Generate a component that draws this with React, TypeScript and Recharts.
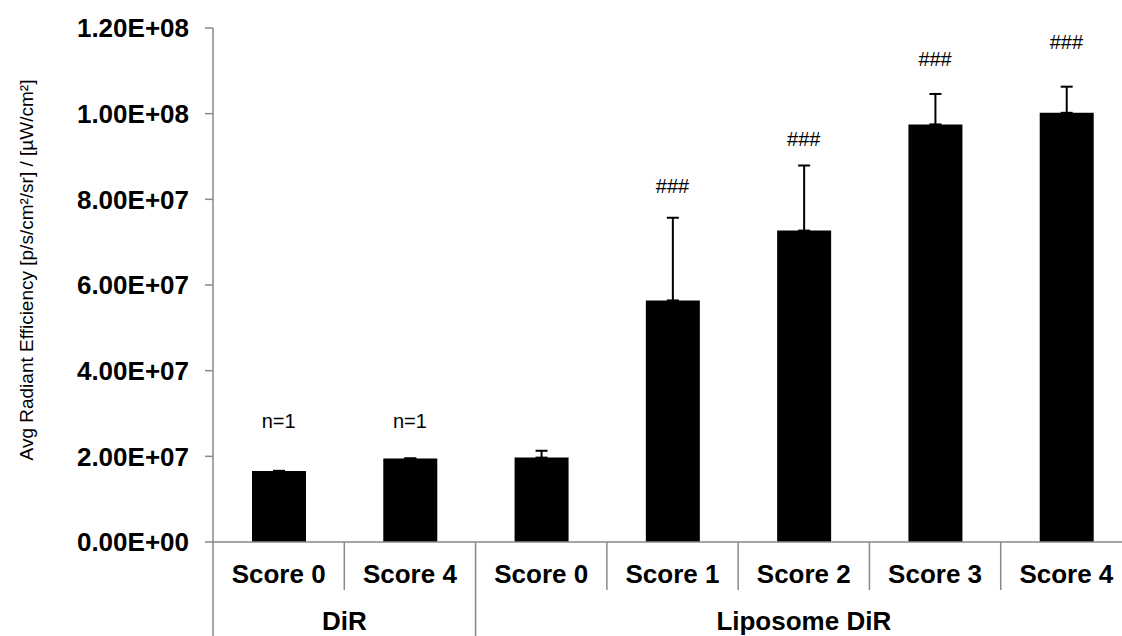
import React from "react";
import {
  BarChart,
  Bar,
  XAxis,
  YAxis,
  ErrorBar,
  ReferenceDot,
} from "recharts";

const groups = ["DiR", "DiR", "Liposome DiR", "Liposome DiR", "Liposome DiR", "Liposome DiR", "Liposome DiR"];
const scores = ["Score 0", "Score 4", "Score 0", "Score 1", "Score 2", "Score 3", "Score 4"];
const means = [1.66e7, 1.95e7, 1.97e7, 5.64e7, 7.27e7, 9.75e7, 1.002e8];
const errors = [0, 0, 1.6e6, 1.93e7, 1.52e7, 7.1e6, 6.1e6];
const notes = ["n=1", "n=1", "", "###", "###", "###", "###"];
const noteLevels = [2.83e7, 2.83e7, 0, 8.32e7, 9.41e7, 1.128e8, 1.167e8];
const yTicks = [0, 2e7, 4e7, 6e7, 8e7, 1e8, 1.2e8];

const data = scores.map((s, i) => ({
  key: `${groups[i]}|${s}`,
  score: s,
  group: groups[i],
  value: means[i],
  err: [0, errors[i]],
}));

const AXIS = "#898989";
const FONT = "'Liberation Sans', Arial, sans-serif";

// 1.2e8 -> "1.20E+08"
const sci = (v: number) => {
  const [m, e] = v.toExponential(2).split("e");
  const sign = e[0] === "-" ? "-" : "+";
  const digits = e.replace(/[+-]/, "").padStart(2, "0");
  return `${m}E${sign}${digits}`;
};

const CategoryTick = (props: any) => {
  const { x, y, payload } = props;
  const i = payload.index;
  const half = payload.offset ?? 65.6;
  const left = x - half;
  const firstOfGroup = i === 0 || groups[i - 1] !== groups[i];
  const lastOfGroup = i === groups.length - 1 || groups[i + 1] !== groups[i];
  let groupLabel = null;
  if (firstOfGroup) {
    const count = groups.filter((g) => g === groups[i]).length;
    groupLabel = (
      <text
        x={left + count * half}
        y={y + 88}
        textAnchor="middle"
        fontFamily={FONT}
        fontWeight="bold"
        fontSize={26}
        fill="#000"
      >
        {groups[i]}
      </text>
    );
  }
  return (
    <g>
      <line x1={left} x2={left} y1={y} y2={firstOfGroup ? y + 100 : y + 48} stroke={AXIS} strokeWidth={1.5} />
      {i === groups.length - 1 && (
        <line x1={x + half} x2={x + half} y1={y} y2={lastOfGroup ? y + 100 : y + 48} stroke={AXIS} strokeWidth={1.5} />
      )}
      <text x={x} y={y + 41} textAnchor="middle" fontFamily={FONT} fontWeight="bold" fontSize={26} fill="#000">
        {scores[i]}
      </text>
      {groupLabel}
    </g>
  );
};

const YTitle = (props: any) => {
  const { viewBox } = props;
  const cx = 26;
  const cy = viewBox.y + viewBox.height / 2 - 15;
  return (
    <text
      x={cx}
      y={cy}
      transform={`rotate(-90, ${cx}, ${cy})`}
      textAnchor="middle"
      dominantBaseline="central"
      fontFamily={FONT}
      fontSize={19}
      fill="#000"
    >
      Avg Radiant Efficiency [p/s/cm²/sr] / [µW/cm²]
    </text>
  );
};

export default function App() {
  return (
    <div
      style={{
        position: "fixed",
        left: 0,
        top: 0,
        width: 1122,
        height: 636,
        overflow: "hidden",
        background: "#fff",
      }}
    >
      <BarChart
        width={1140}
        height={636}
        data={data}
        margin={{ top: 28, right: 8, bottom: 0, left: 0 }}
        barSize={54}
      >
        <XAxis
          dataKey="key"
          height={94}
          interval={0}
          tickSize={0}
          tickMargin={0}
          tickLine={false}
          axisLine={{ stroke: AXIS, strokeWidth: 1.5 }}
          tick={<CategoryTick />}
        />
        <YAxis
          width={213}
          domain={[0, 1.2e8]}
          ticks={yTicks}
          interval={0}
          tickFormatter={sci}
          tickSize={8}
          tickMargin={16}
          axisLine={{ stroke: AXIS, strokeWidth: 1.5 }}
          tickLine={{ stroke: AXIS, strokeWidth: 1.5 }}
          tick={{ fill: "#000", fontFamily: FONT, fontWeight: "bold", fontSize: 26 }}
          label={<YTitle />}
        />
        <Bar dataKey="value" fill="#000" isAnimationActive={false}>
          <ErrorBar dataKey="err" width={6} stroke="#000" strokeWidth={2} direction="y" />
        </Bar>
        {data.map((d, i) =>
          notes[i] ? (
            <ReferenceDot
              key={d.key}
              x={d.key}
              y={noteLevels[i]}
              r={0}
              stroke="none"
              fill="none"
              label={{
                value: notes[i],
                position: "center",
                fill: "#000",
                fontFamily: FONT,
                fontSize: 20,
              }}
            />
          ) : null
        )}
      </BarChart>
    </div>
  );
}
